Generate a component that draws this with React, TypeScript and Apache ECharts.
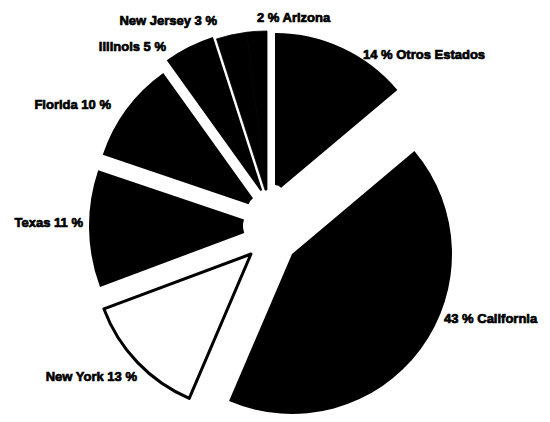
import React, { useEffect, useRef } from 'react';
import * as echarts from 'echarts';

// Data
const states = ['Otros Estados', 'California', 'New York', 'Texas', 'Florida', 'Illinois', 'New Jersey', 'Arizona'];
const shares = [14, 43, 13, 11, 10, 5, 3, 2];
// label reads "value % name" on the right side, "name value %" on the left side
const valueFirst = [true, true, false, false, false, false, false, true];

// Each exploded piece is drawn by its own pie series (indices into states)
const pieces = [[0], [1], [2], [3], [4], [5], [6, 7]];

// Styling / layout only
const pieceStyle = [
  { center: [275, 193], radius: 160, inner: 8, fill: '#000', border: 0 },
  { center: [292, 254], radius: 160, inner: 0, fill: '#000', border: 0 },
  { center: [251, 254], radius: 157, inner: 0, fill: '#fff', border: 3 },
  { center: [263, 226], radius: 174, inner: 20, fill: '#000', border: 0 },
  { center: [260, 208], radius: 166, inner: 12, fill: '#000', border: 0 },
  { center: [264, 196], radius: 167, inner: 6, fill: '#000', border: 0 },
  { center: [267, 196], radius: 165, inner: 6, fill: '#000', border: 0.8 },
];
const labelPos = [
  { x: 363, y: 54, align: 'left' },
  { x: 444, y: 318, align: 'left' },
  { x: 137, y: 376, align: 'right' },
  { x: 83, y: 222, align: 'right' },
  { x: 111, y: 104, align: 'right' },
  { x: 166, y: 46, align: 'right' },
  { x: 217, y: 20, align: 'right' },
  { x: 257, y: 17, align: 'left' },
];

export default function App() {
  const ref = useRef<HTMLDivElement>(null);
  useEffect(() => {
    document.body.style.margin = '0';
    const chart = echarts.init(ref.current!, null, { renderer: 'svg' });
    const series = pieces.map((idxs, si) => {
      const st = pieceStyle[si];
      return {
        type: 'pie',
        silent: true,
        center: st.center,
        radius: [st.inner, st.radius],
        startAngle: 90,
        clockwise: true,
        avoidLabelOverlap: false,
        labelLine: { show: false },
        emphasis: { disabled: true },
        labelLayout: (params: any) => {
          const p = labelPos[params.dataIndex];
          return { x: p.x, y: p.y, align: p.align, verticalAlign: 'middle' };
        },
        data: states.map((name, i) => {
          const shown = idxs.includes(i);
          return {
            name,
            value: shares[i],
            itemStyle: shown
              ? { color: st.fill, borderColor: '#000', borderWidth: st.border }
              : { color: 'rgba(0,0,0,0)', borderWidth: 0 },
            label: shown
              ? {
                  show: true,
                  position: 'outside',
                  formatter: valueFirst[i] ? '{c} % {b}' : '{b} {c} %',
                  color: '#000',
                  fontFamily: '"Liberation Sans", Arial, sans-serif',
                  fontWeight: 'bold',
                  fontSize: 13,
                  textBorderColor: '#000',
                  textBorderWidth: 0.7,
                }
              : { show: false },
          };
        }),
      };
    });
    chart.setOption({ animation: false, backgroundColor: '#fff', series });
    return () => chart.dispose();
  }, []);
  return <div ref={ref} style={{ width: 550, height: 422 }} />;
}
